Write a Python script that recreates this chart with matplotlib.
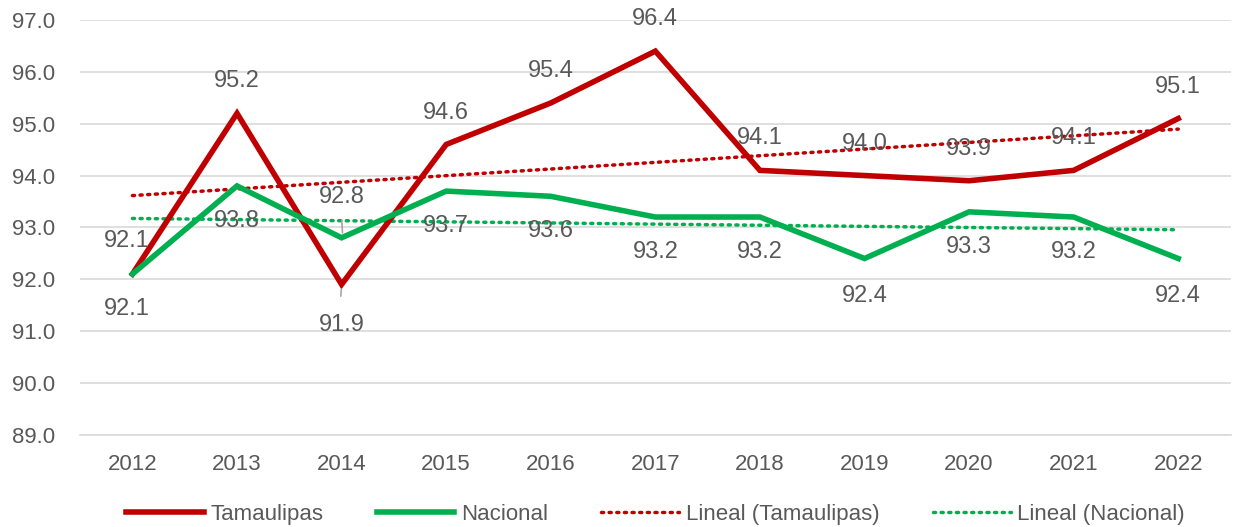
import matplotlib.pyplot as plt
import numpy as np

plt.rcParams['font.family'] = ['Liberation Sans', 'DejaVu Sans']

years = ['2012', '2013', '2014', '2015', '2016', '2017', '2018', '2019', '2020', '2021', '2022']
tamaulipas = [92.1, 95.2, 91.9, 94.6, 95.4, 96.4, 94.1, 94.0, 93.9, 94.1, 95.1]
nacional = [92.1, 93.8, 92.8, 93.7, 93.6, 93.2, 93.2, 92.4, 93.3, 93.2, 92.4]

red = '#C00000'
green = '#00B050'
txt = '#595959'

x = np.arange(len(years))

fig = plt.figure(figsize=(12.33, 5.27), dpi=100)
ax = fig.add_axes([0.065, 0.175, 0.933, 0.787])

ax.plot(x, tamaulipas, color=red, lw=4, label='Tamaulipas', solid_joinstyle='miter', zorder=3)
ax.plot(x, nacional, color=green, lw=4, label='Nacional', solid_joinstyle='miter', zorder=3)

# linear trendlines
pt = np.polyfit(x, tamaulipas, 1)
pn = np.polyfit(x, nacional, 1)
ax.plot(x, np.polyval(pt, x), color=red, lw=2.5, ls=(0, (0.6, 1.6)), dash_capstyle='round',
        label='Lineal (Tamaulipas)', zorder=2)
ax.plot(x, np.polyval(pn, x), color=green, lw=2.5, ls=(0, (0.6, 1.6)), dash_capstyle='round',
        label='Lineal (Nacional)', zorder=2)

# data labels (offsets in points)
fs = 17
t_off = [(-4, 24)] + [(0, 23)] * 10
t_off[2] = (0, -29)
n_off = [(-4, -25)] + [(0, -25)] * 10
n_off[2] = (0, 29)
n_off[7] = (0, -27)
n_off[10] = (0, -27)
for i in range(len(x)):
    ax.annotate(f'{tamaulipas[i]:.1f}', (x[i], tamaulipas[i]), xytext=t_off[i], textcoords='offset points',
                ha='center', va='center', fontsize=fs, color=txt, zorder=4)
    ax.annotate(f'{nacional[i]:.1f}', (x[i], nacional[i]), xytext=n_off[i], textcoords='offset points',
                ha='center', va='center', fontsize=fs, color=txt, zorder=4)

# leader lines for 2014 labels
ax.annotate('', (2, 91.86), xytext=(1.99, 91.62), arrowprops=dict(arrowstyle='-', color='#A6A6A6', lw=1.2))
ax.annotate('', (2.01, 92.84), xytext=(2.0, 93.2), arrowprops=dict(arrowstyle='-', color='#A6A6A6', lw=1.2))

ax.set_xlim(-0.5, len(x) - 0.5)
ax.set_ylim(89, 97)
ax.set_yticks(np.arange(89, 97.1, 1))
ax.set_yticklabels([f'{v:.1f}' for v in np.arange(89, 97.1, 1)])
ax.set_xticks(x)
ax.set_xticklabels(years)
ax.tick_params(axis='both', length=0, labelsize=16, colors=txt)
ax.tick_params(axis='x', pad=14)
ax.tick_params(axis='y', pad=18)
ax.grid(axis='y', color='#D9D9D9', lw=1.2)
ax.set_axisbelow(True)
for s in ['top', 'right', 'left']:
    ax.spines[s].set_visible(False)
ax.spines['bottom'].set_color('#D9D9D9')
ax.spines['bottom'].set_linewidth(1.2)

leg = ax.legend(loc='upper center', bbox_to_anchor=(0.5, -0.118), ncol=4, frameon=False,
                fontsize=16, handlelength=3.5, columnspacing=2.4, handletextpad=0.3)
for t in leg.get_texts():
    t.set_color(txt)

fig.savefig('out.png', dpi=100)
